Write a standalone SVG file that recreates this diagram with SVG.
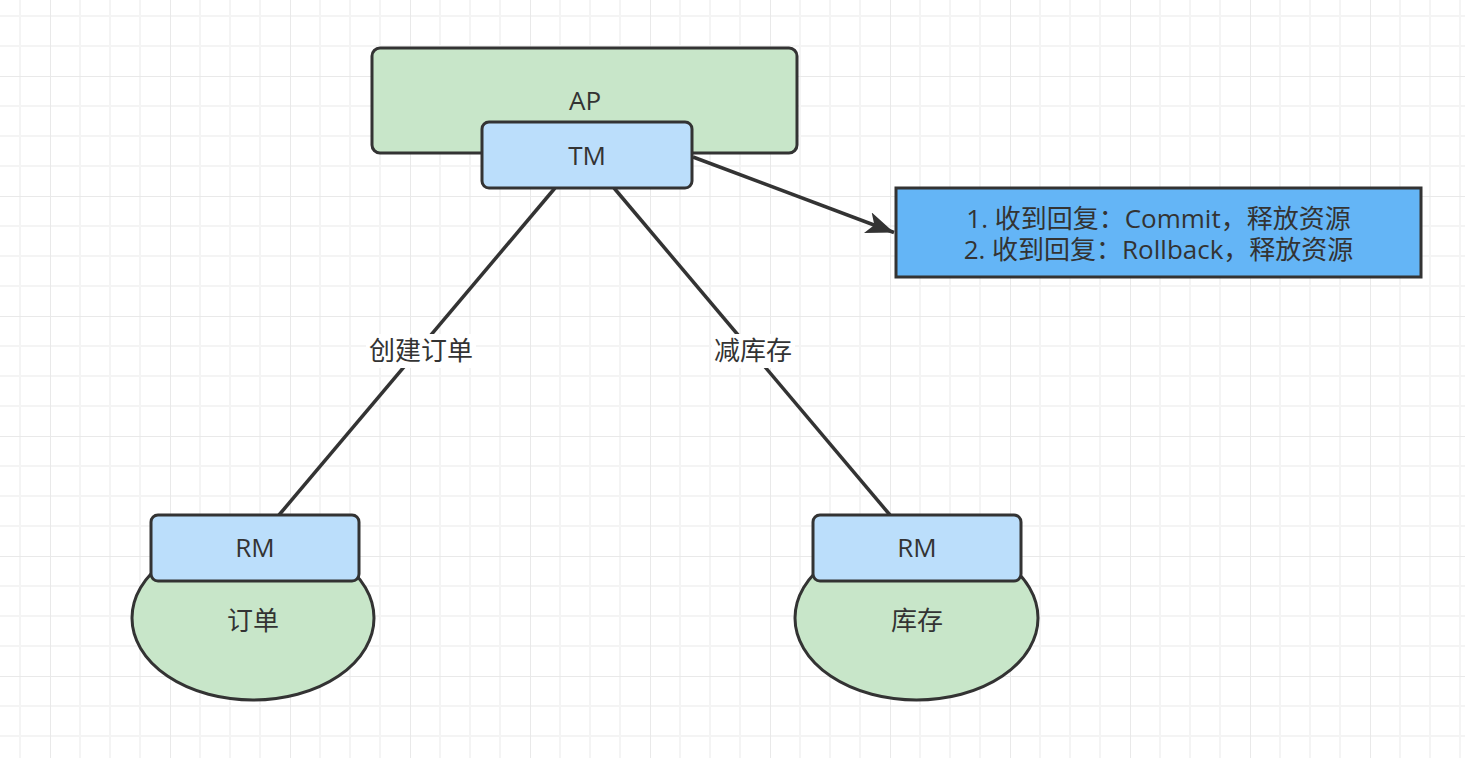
<svg xmlns="http://www.w3.org/2000/svg" width="1465" height="758" viewBox="0 0 1465 758">
<style>
.box{stroke:#333333;stroke-width:3}
.green{fill:#c8e6c9}
.lblue{fill:#bbdefb}
.cblue{fill:#64b5f6}
.t{font-family:"Open Sans","Noto Sans CJK SC",sans-serif;font-size:26px;fill:#333333;text-anchor:middle}
.edge{stroke:#333333;stroke-width:3.5;fill:none}
</style>
<defs>
<pattern id="grid" x="50" y="76" width="120" height="120" patternUnits="userSpaceOnUse">
<path d="M30,0V120M60,0V120M90,0V120M0,30H120M0,60H120M0,90H120" stroke="#f4f4f4" stroke-width="2" fill="none"/>
<path d="M0,0V120M0,0H120" stroke="#e9e9e9" stroke-width="2" fill="none"/>
</pattern>
<marker id="arrow" markerUnits="userSpaceOnUse" markerWidth="30" markerHeight="22" refX="28" refY="11" orient="auto">
<path d="M0,0 L28,11 L0,22 L7,11 Z" fill="#333333"/>
</marker>
</defs>
<rect width="1465" height="758" fill="#ffffff"/>
<rect width="1465" height="758" fill="url(#grid)"/>
<g id="connectors">
<line class="edge" x1="555" y1="188" x2="279" y2="515"/>
<line class="edge" x1="614" y1="188" x2="890" y2="515"/>
<line class="edge" x1="693" y1="157" x2="894" y2="232.5" marker-end="url(#arrow)"/>
<rect x="366" y="334" width="110" height="34" fill="#ffffff"/>
<text class="t" x="421" y="360">创建订单</text>
<rect x="712" y="334" width="83" height="34" fill="#ffffff"/>
<text class="t" x="753" y="360">减库存</text>
</g>
<g id="AP">
<rect class="box green" x="372" y="48" width="425" height="105" rx="8"/>
<text class="t" x="585" y="110">AP</text>
</g>
<g id="TM">
<rect class="box lblue" x="482" y="122" width="210" height="66" rx="7"/>
<text class="t" x="587" y="165">TM</text>
</g>
<g id="callout">
<rect class="box cblue" x="896" y="188" width="525" height="89"/>
<text class="t" x="1158.5" y="228">1. 收到回复：Commit，释放资源<tspan x="1158.5" dy="31">2. 收到回复：Rollback，释放资源</tspan></text>
</g>
<g id="db-order">
<ellipse class="box green" cx="253" cy="618" rx="121" ry="82"/>
<text class="t" x="253" y="630">订单</text>
</g>
<g id="RM-order">
<rect class="box lblue" x="151" y="515" width="208" height="66" rx="7"/>
<text class="t" x="255" y="557">RM</text>
</g>
<g id="db-stock">
<ellipse class="box green" cx="916.5" cy="618" rx="121.5" ry="82"/>
<text class="t" x="917" y="630">库存</text>
</g>
<g id="RM-stock">
<rect class="box lblue" x="813" y="515" width="208" height="66" rx="7"/>
<text class="t" x="917" y="557">RM</text>
</g>
</svg>
